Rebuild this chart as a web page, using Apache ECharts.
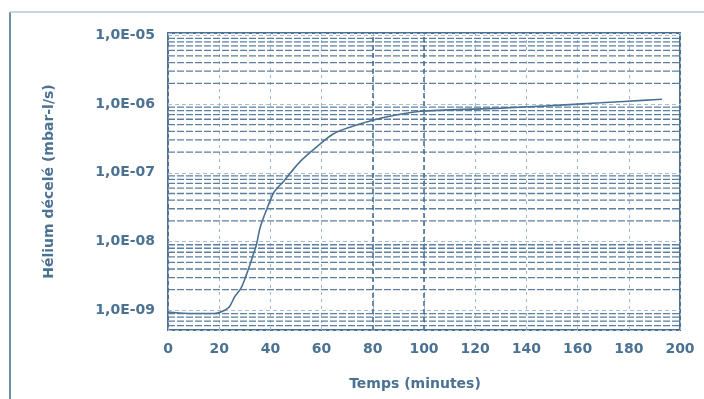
<!DOCTYPE html>
<html>
<head>
<meta charset="utf-8">
<script src="https://cdn.jsdelivr.net/npm/echarts@6/dist/echarts.min.js"></script>
<style>
  html, body { margin: 0; padding: 0; background: #fff; }
  #chart { width: 704px; height: 399px; }
</style>
</head>
<body>
<div id="chart"></div>
<script>
// temps (minutes) / flux hélium (mbar-l/s)
const times = [0, 10, 18, 22, 24, 26, 28.5, 30.5, 32, 33, 34.5, 36, 38.5, 41.5, 45, 51.5, 58, 64.5, 71, 80, 89, 100, 130, 148, 169, 187, 193];
const flux = [9.5e-10, 9.0e-10, 9.0e-10, 1.0e-9, 1.13e-9, 1.57e-9, 2.1e-9, 3.2e-9, 4.6e-9, 6.0e-9, 8.9e-9, 1.6e-8, 2.9e-8, 5.3e-8, 7.4e-8, 1.44e-7, 2.37e-7, 3.66e-7, 4.6e-7, 5.8e-7, 6.9e-7, 7.9e-7, 8.7e-7, 9.4e-7, 1.04e-6, 1.14e-6, 1.17e-6];

// graduations
const xTicks = [0, 20, 40, 60, 80, 100, 120, 140, 160, 180, 200];
const decades = [1e-10, 1e-9, 1e-8, 1e-7, 1e-6];
const minorSteps = [2, 3, 4, 5, 6, 7, 8, 9];
const darkVerticals = [80, 100];
const yMin = 5.19e-10;
const yMax = 1.076e-5;

const ink = '#4b7193';
const font = 'DejaVu Sans';

// quadrillage logarithmique secondaire (2..9 de chaque décade)
const minorSeries = [];
decades.forEach(d => minorSteps.forEach(m => {
  const v = d * m;
  if (v <= yMin || v >= yMax) return;
  minorSeries.push({
    type: 'line', silent: true, showSymbol: false, z: 1,
    data: [[0, v], [200, v]],
    lineStyle: { color: '#5d80a0', type: [7, 2], width: 1.3 }
  });
}));

const chart = echarts.init(document.getElementById('chart'));
chart.setOption({
  animation: false,
  graphic: [
    { type: 'line', shape: { x1: 10, y1: 12, x2: 10, y2: 399 }, style: { stroke: '#6f8fab', lineWidth: 2 } },
    { type: 'line', shape: { x1: 10, y1: 12, x2: 704, y2: 12 }, style: { stroke: '#b9c8d6', lineWidth: 1.5 } }
  ],
  grid: {
    left: 168, right: 24, top: 33, bottom: 69,
    show: true, borderColor: ink, borderWidth: 2
  },
  xAxis: {
    type: 'value', min: 0, max: 200, interval: 20,
    name: 'Temps (minutes)', nameLocation: 'middle', nameGap: 47,
    nameTextStyle: { color: ink, fontFamily: font, fontWeight: 'bold', fontSize: 14, padding: [0, 18, 0, 0] },
    axisLine: { show: false },
    axisTick: { show: false },
    axisLabel: {
      color: ink, fontFamily: font, fontWeight: 'bold', fontSize: 14, margin: 12,
      formatter: v => xTicks.includes(v) ? String(v) : ''
    },
    splitLine: { show: true, lineStyle: { color: '#9fb5c9', type: [3, 4], width: 1 } }
  },
  yAxis: {
    type: 'log', logBase: 10, min: yMin, max: yMax,
    name: 'Hélium décelé (mbar-l/s)', nameLocation: 'middle', nameGap: 112,
    nameTextStyle: { color: ink, fontFamily: font, fontWeight: 'bold', fontSize: 14 },
    axisLine: { show: false },
    axisTick: { show: false },
    axisLabel: {
      color: ink, fontFamily: font, fontWeight: 'bold', fontSize: 14, margin: 13,
      formatter: v => {
        const l = Math.log10(v), e = Math.round(l);
        if (Math.abs(l - e) > 0.01) return '';
        return '1,0E-' + String(-e).padStart(2, '0');
      }
    },
    splitLine: { show: true, lineStyle: { color: '#a9bccd', type: [4, 3], width: 1 } }
  },
  series: [{
    type: 'line',
    z: 3,
    data: times.map((t, i) => [t, flux[i]]),
    showSymbol: false,
    smooth: 0.3,
    lineStyle: { color: ink, width: 1.6 }
  }, {
    type: 'line',
    data: [],
    markLine: {
      silent: true, symbol: 'none', animation: false,
      label: { show: false },
      lineStyle: { color: ink, type: [5, 3], width: 1.6 },
      data: darkVerticals.map(v => ({ xAxis: v }))
    }
  }].concat(minorSeries)
});
</script>
</body>
</html>
